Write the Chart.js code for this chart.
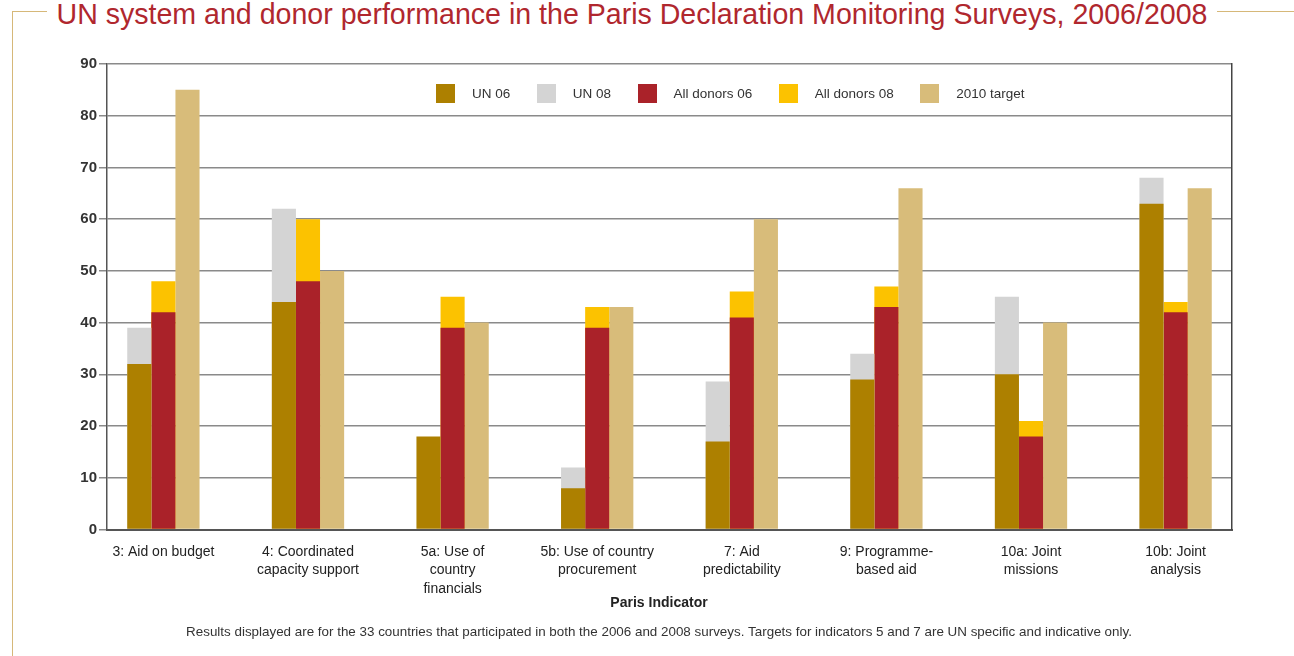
<!DOCTYPE html>
<html>
<head>
<meta charset="utf-8">
<script src="https://cdn.jsdelivr.net/npm/chart.js@4.4.0/dist/chart.umd.min.js"></script>
<style>
  body { margin: 0; background: #fff; }
  #wrap {
    position: relative; width: 1294px; height: 656px; overflow: hidden;
    font-family: "Liberation Sans", Arial, sans-serif;
  }
  #frame {
    position: absolute; left: 12px; top: 11px; width: 1300px; height: 700px;
    border-left: 1.5px solid #d6b879; border-top: 1.5px solid #d6b879;
  }
  #title {
    position: absolute; left: 47px; top: -1px; padding: 0 10px; background: #fff;
    color: #b0272e; font-size: 30px; line-height: 30px; white-space: nowrap;
    transform: scaleX(0.952); transform-origin: 0 0;
  }
  #chart { position: absolute; left: 0; top: 0; }
  #legend { position: absolute; left: 436px; top: 84px; display: flex; align-items: center; }
  #legend .item { display: flex; align-items: center; margin-right: 26.5px; font-size: 13.5px; color: #333; }
  #legend .box { width: 19px; height: 19px; margin-right: 17px; }
</style>
</head>
<body>
<div id="wrap">
  <div id="frame"></div>
  <div id="title">UN system and donor performance in the Paris Declaration Monitoring Surveys, 2006/2008</div>
  <canvas id="chart" width="1294" height="656"></canvas>
  <div id="legend"></div>
</div>
<script>
const categories = [
  ["3: Aid on budget"],
  ["4: Coordinated", "capacity support"],
  ["5a: Use of", "country", "financials"],
  ["5b: Use of country", "procurement"],
  ["7: Aid", "predictability"],
  ["9: Programme-", "based aid"],
  ["10a: Joint", "missions"],
  ["10b: Joint", "analysis"]
];
const un06 = [32, 44, 18, 8, 17, 29, 30, 63];
const un08 = [39, 62, null, 12, 28.6, 34, 45, 68];
const donors06 = [42, 48, 39, 39, 41, 43, 18, 42];
const donors08 = [48, 60, 45, 43, 46, 47, 21, 44];
const target2010 = [85, 50, 40, 43, 60, 66, 40, 66];
const yMax = 90;
const yStep = 10;

const fontFamily = '"Liberation Sans", Arial, sans-serif';

// 2006 bars are drawn in front of the 2008 bars of the same group
const series = [
  { label: "UN 06", data: un06, color: "#ad8000", stack: "un" },
  { label: "UN 08", data: un08, color: "#d4d4d4", stack: "un" },
  { label: "All donors 06", data: donors06, color: "#aa2229", stack: "donors" },
  { label: "All donors 08", data: donors08, color: "#fcc200", stack: "donors" },
  { label: "2010 target", data: target2010, color: "#d8bc7a", stack: "target" }
];

const chart = new Chart(document.getElementById("chart"), {
  type: "bar",
  data: {
    datasets: series.map((s) => ({
      label: s.label,
      data: s.data.map((v, i) => ({ x: i, y: v })),
      backgroundColor: s.color,
      stack: s.stack,
      barPercentage: 1,
      categoryPercentage: 0.5
    }))
  },
  options: {
    responsive: false,
    animation: false,
    layout: { padding: { top: 64, left: 64, right: 40, bottom: 0 } },
    plugins: {
      legend: { display: false },
      tooltip: { enabled: false },
      subtitle: {
        display: true,
        position: "bottom",
        text: "Paris Indicator",
        color: "#222",
        font: { family: fontFamily, size: 14, weight: "bold", lineHeight: 1.2 },
        padding: { top: 0, bottom: 7 }
      },
      title: {
        display: true,
        position: "bottom",
        text: "Results displayed are for the 33 countries that participated in both the 2006 and 2008 surveys. Targets for indicators 5 and 7 are UN specific and indicative only.",
        color: "#333",
        font: { family: fontFamily, size: 13.4, weight: "normal", lineHeight: 1.2 },
        padding: { top: 5, bottom: 16 }
      }
    },
    scales: {
      x: {
        type: "linear",
        offset: false,
        min: -0.39,
        max: categories.length - 1 + 0.39,
        grid: { display: false, drawTicks: false },
        border: { color: "#555", width: 2 },
        ticks: {
          stepSize: 1,
          includeBounds: false,
          autoSkip: false,
          maxRotation: 0,
          padding: 13,
          color: "#222",
          font: { family: fontFamily, size: 14, lineHeight: 1.32 },
          callback: (v) => categories[v]
        },
        afterFit: (scale) => { scale.height = 65.6; }
      },
      y: {
        stacked: false,
        min: 0,
        max: yMax,
        grid: { color: "#8a8a8a", lineWidth: 1.5, tickLength: 8 },
        border: { color: "#555", width: 1.5 },
        ticks: {
          stepSize: yStep,
          padding: 2,
          color: "#333",
          font: { family: fontFamily, size: 15, weight: "bold" }
        },
        afterFit: (scale) => { scale.width = 43; }
      },
      y2: {
        position: "right",
        grid: { display: false, drawTicks: false },
        border: { color: "#444", width: 1.5 },
        ticks: { display: false },
        afterFit: (scale) => { scale.width = 22; }
      }
    }
  }
});

// legend drawn inside the plot, built from the chart's own datasets
const legendEl = document.getElementById("legend");
chart.data.datasets.forEach((ds) => {
  const item = document.createElement("div");
  item.className = "item";
  const box = document.createElement("span");
  box.className = "box";
  box.style.background = ds.backgroundColor;
  const txt = document.createElement("span");
  txt.textContent = ds.label;
  item.appendChild(box);
  item.appendChild(txt);
  legendEl.appendChild(item);
});
</script>
</body>
</html>
